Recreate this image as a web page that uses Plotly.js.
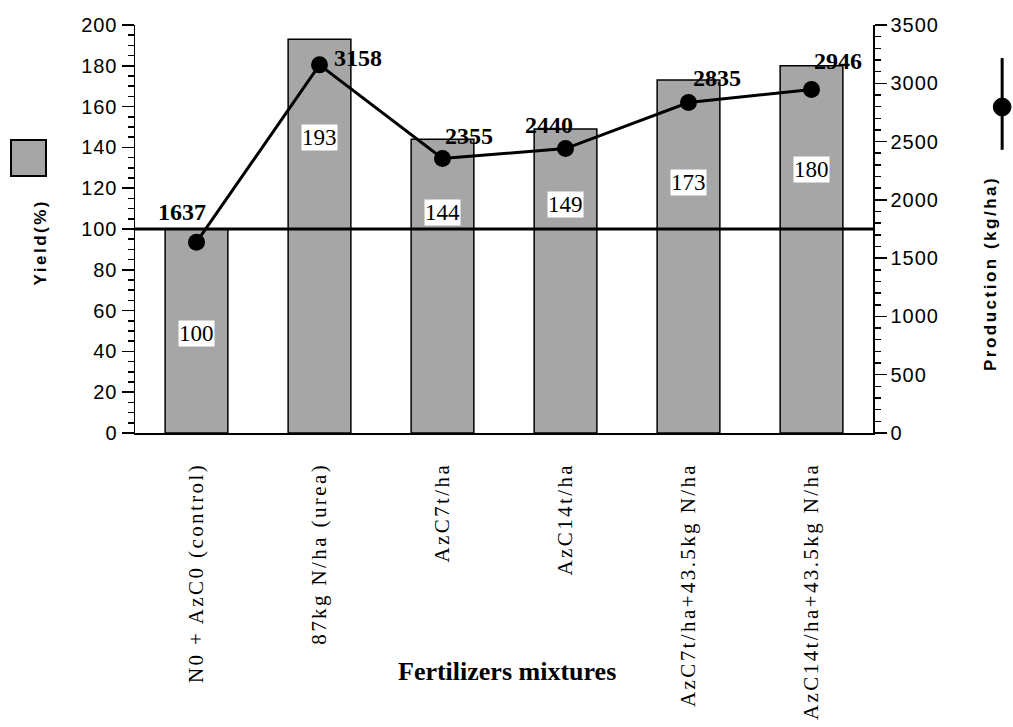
<!DOCTYPE html>
<html><head><meta charset="utf-8">
<script src="https://cdn.plot.ly/plotly-3.0.1.min.js"></script>
<style>
body{margin:0;background:#fff}#chart{width:1013px;height:727px}
.xtick text{letter-spacing:2.4px}
.ytick text,.y2tick text{letter-spacing:1px}
.legtxt{letter-spacing:2.5px}
</style>
</head><body><div id="chart"></div>
<script>
const categories = ["N0 + AzC0 (control)", "87kg N/ha (urea)", "AzC7t/ha", "AzC14t/ha", "AzC7t/ha+43.5kg N/ha", "AzC14t/ha+43.5kg N/ha"];
const yieldPct = [100, 193, 144, 149, 173, 180];
const production = [1637, 3158, 2355, 2440, 2835, 2946];
// where the boxed yield labels sit on the yield scale
const yieldLabelLevel = [49, 145, 108, 112, 123, 129];
// pixel offsets of the production labels from their markers
const prodLabelDx = [-15, 38, 26, -17, 28, 26];
const prodLabelDy = [30, 7, 22, 24, 25, 29];

const serif = "Liberation Serif, Times New Roman, serif";
const sans = "Liberation Sans, Arial, sans-serif";

const bars = {
  type: 'bar', x: categories, y: yieldPct, yaxis: 'y',
  marker: {color: '#a6a6a6', line: {color: '#000', width: 1.5}},
  width: 0.51, hoverinfo: 'skip'
};
const line = {
  type: 'scatter', mode: 'lines+markers', x: categories, y: production, yaxis: 'y2',
  line: {color: '#000', width: 3}, marker: {color: '#000', size: 17},
  cliponaxis: false
};

const annotations = categories.map((c, i) => ({
  x: c, y: yieldLabelLevel[i], xref: 'x', yref: 'y', text: String(yieldPct[i]),
  showarrow: false, bgcolor: '#fff', borderpad: 0,
  font: {family: serif, size: 23, color: '#000'}
}));
categories.forEach((c, i) => annotations.push({
  x: c, y: production[i], xref: 'x', yref: 'y2', text: '<b>' + production[i] + '</b>',
  showarrow: false, xshift: prodLabelDx[i], yshift: prodLabelDy[i],
  font: {family: serif, size: 24, color: '#000'}
}));
annotations.push(
  {xref: 'paper', yref: 'paper', x: 0.504, y: -0.625, text: '<b>Fertilizers mixtures</b>', showarrow: false,
   font: {family: serif, size: 26, color: '#000'}},
  {xref: 'paper', yref: 'paper', x: -0.1436, y: 0.466, text: '<b>Yield(%)</b>', textangle: -90, showarrow: false,
   font: {family: sans, size: 17, color: '#000'}},
  {xref: 'paper', yref: 'paper', x: 1.175, y: 0.39, text: '<b>Production (kg/ha)</b>', textangle: -90, showarrow: false,
   font: {family: sans, size: 17, color: '#000'}}
);

const shapes = [
  {type: 'line', xref: 'paper', yref: 'y', x0: 0, x1: 1, y0: 100, y1: 100, line: {color: '#000', width: 3}},
  {type: 'rect', xref: 'paper', yref: 'paper', x0: -0.168, x1: -0.1206, y0: 0.630, y1: 0.718,
   fillcolor: '#a6a6a6', line: {color: '#000', width: 2}},
  {type: 'line', xref: 'paper', yref: 'paper', x0: 1.175, x1: 1.175, y0: 0.694, y1: 0.919, line: {color: '#000', width: 3}},
  {type: 'circle', xref: 'paper', yref: 'paper', x0: 1.163, x1: 1.187, y0: 0.777, y1: 0.821, fillcolor: '#000', line: {color: '#000', width: 1}}
];

const layout = {
  width: 1013, height: 727,
  margin: {l: 135, r: 140, t: 25, b: 294},
  paper_bgcolor: '#fff', plot_bgcolor: '#fff',
  showlegend: false,
  xaxis: {
    type: 'category', tickangle: -90, showline: true, linecolor: '#000', linewidth: 1.5,
    ticks: '', ticklabelstandoff: 20, automargin: false,
    tickfont: {family: serif, size: 21, color: '#000'}, showgrid: false, zeroline: false
  },
  yaxis: {
    range: [0, 200], dtick: 20, showline: true, linecolor: '#000', linewidth: 1.5,
    ticks: 'outside', ticklen: 12, tickwidth: 1.5, tickcolor: '#000', automargin: false,
    minor: {dtick: 5, ticks: 'outside', ticklen: 6, tickwidth: 1.5, tickcolor: '#000', showgrid: false},
    tickfont: {family: sans, size: 20, color: '#000'}, showgrid: false, zeroline: false
  },
  yaxis2: {
    range: [0, 3500], dtick: 500, overlaying: 'y', side: 'right', showline: true, linecolor: '#000', linewidth: 1.5,
    ticks: 'outside', ticklen: 12, tickwidth: 1.5, tickcolor: '#000', automargin: false,
    minor: {dtick: 100, ticks: 'outside', ticklen: 6, tickwidth: 1.5, tickcolor: '#000', showgrid: false},
    tickfont: {family: sans, size: 20, color: '#000'}, showgrid: false, zeroline: false
  },
  annotations: annotations, shapes: shapes
};

Plotly.newPlot('chart', [bars, line], layout, {displayModeBar: false, staticPlot: true}).then(() => {
  document.querySelectorAll('.annotation-text').forEach(t => {
    if (/Yield\(%\)|Production/.test(t.textContent)) t.classList.add('legtxt');
  });
});
</script></body></html>
